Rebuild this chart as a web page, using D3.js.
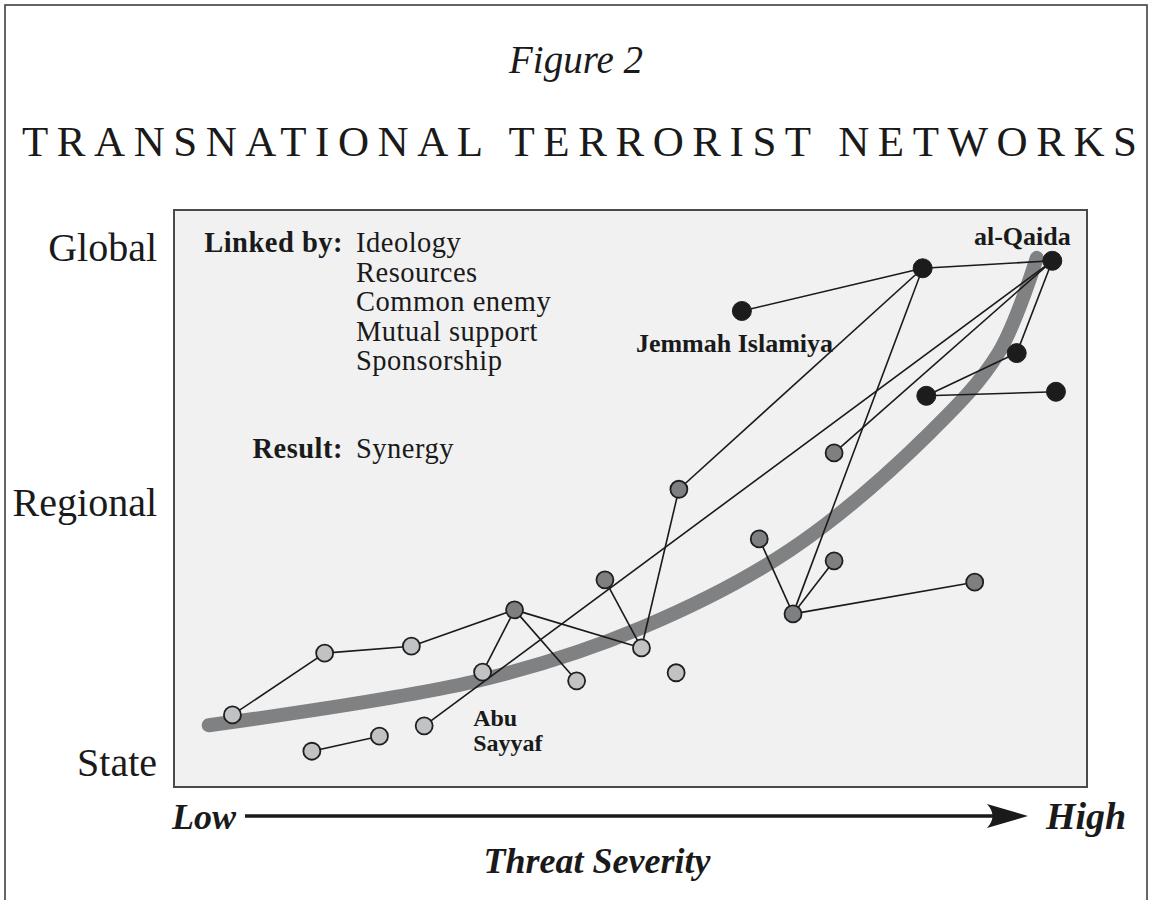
<!DOCTYPE html>
<html>
<head>
<meta charset="utf-8">
<script src="https://cdn.jsdelivr.net/npm/d3@7"></script>
<style>
body { margin: 0; background: #fff; }
svg { display: block; }
text { font-family: "Liberation Serif", "Times New Roman", serif; fill: #1a1a1a; }
</style>
</head>
<body>
<svg id="chart" width="1151" height="900"></svg>
<script>
// node positions: x = threat severity (0-100), y = reach (0 state .. 100 global)
const nodeIds   = ["aq", "b", "ji", "d", "e", "f", "g", "h", "i", "j", "k", "l", "m", "n", "o", "p", "q", "r", "s", "t", "u", "as", "w", "x"];
const nodeX     = [96.2, 82.0, 62.2, 92.3, 82.4, 96.6, 72.3, 55.3, 64.1, 72.3, 67.8, 87.7, 47.2, 37.3, 6.4, 16.5, 26.0, 33.8, 44.1, 51.2, 55.0, 27.4, 15.1, 22.5];
const nodeY     = [91.2, 89.9, 82.5, 75.2, 67.8, 68.5, 57.9, 51.6, 43.0, 39.2, 30.0, 35.5, 35.9, 30.7, 12.5, 23.2, 24.4, 19.9, 18.4, 24.1, 19.8, 10.6, 6.2, 8.8];
const nodeTier  = ["core", "core", "core", "core", "core", "core", "mid", "mid", "mid", "mid", "mid", "mid", "mid", "mid",
                   "local", "local", "local", "local", "local", "local", "local", "local", "local", "local"];

const links = [["ji", "b"], ["b", "aq"], ["b", "h"], ["b", "k"], ["aq", "d"], ["aq", "g"], ["aq", "as"],
               ["d", "e"], ["e", "f"], ["k", "i"], ["k", "j"], ["k", "l"],
               ["o", "p"], ["p", "q"], ["q", "n"], ["n", "r"], ["n", "s"], ["n", "t"], ["m", "t"], ["t", "h"], ["w", "x"]];

// the thick grey trend
const trendX = [3.8, 33.5, 51.2, 67.5, 82.8, 90.3, 94.5];
const trendY = [10.7, 18.5, 27.6, 41.1, 61.4, 75.2, 91.7];

const levelNames  = ["State", "Regional", "Global"];
const levelValues = [4.3, 49.4, 93.6];

const linkedBy = ["Ideology", "Resources", "Common enemy", "Mutual support", "Sponsorship"];
const groupNames = { aq: ["al-Qaida"], ji: ["Jemmah Islamiya"], as: ["Abu", "Sayyaf"] };

const tierFill = { core: "#1c1c1c", mid: "#7e7f81", local: "#c1c2c4" };

function NetworkChart(svg) {
    var self = this;
    self.svg = svg;
    self.init();
}

NetworkChart.prototype.init = function() {
    var self = this;
    self.box = { left: 174, top: 210, right: 1087, bottom: 787 };

    self.x = d3.scaleLinear().domain([0, 100]).range([self.box.left, self.box.right]);
    self.y = d3.scaleLinear().domain([0, 100]).range([self.box.bottom, self.box.top]);

    self.nodes = nodeIds.map(function(id, i) {
        return { id: id, x: nodeX[i], y: nodeY[i], tier: nodeTier[i] };
    });
    self.byId = {};
    self.nodes.forEach(function(d) { self.byId[d.id] = d; });
};

NetworkChart.prototype.drawFrame = function() {
    var self = this;
    // outer page frame
    self.svg.append("rect")
        .attr("x", 5).attr("y", 5)
        .attr("width", 1142).attr("height", 920)
        .attr("fill", "none").attr("stroke", "#333").attr("stroke-width", 1.5);

    self.svg.append("text")
        .attr("x", 576).attr("y", 73)
        .attr("text-anchor", "middle")
        .style("font-style", "italic").style("font-size", "39px")
        .text("Figure 2");

    self.svg.append("text")
        .attr("x", 22).attr("y", 156)
        .attr("textLength", 1115).attr("lengthAdjust", "spacing")
        .style("font-size", "43px")
        .text("TRANSNATIONAL TERRORIST NETWORKS");

    self.svg.append("rect")
        .attr("x", self.box.left).attr("y", self.box.top)
        .attr("width", self.box.right - self.box.left)
        .attr("height", self.box.bottom - self.box.top)
        .attr("fill", "#f1f1f1").attr("stroke", "#4a4a4a").attr("stroke-width", 2);
};

NetworkChart.prototype.drawAxes = function() {
    var self = this;

    self.svg.selectAll(".level")
        .data(levelNames)
        .join("text")
        .attr("class", "level")
        .attr("x", 157)
        .attr("y", function(d, i) { return self.y(levelValues[i]); })
        .attr("dy", "0.35em")
        .attr("text-anchor", "end")
        .style("font-size", "40px")
        .text(function(d) { return d; });

    let ay = 816;
    self.svg.append("text").attr("x", 172).attr("y", ay + 13)
        .style("font-style", "italic").style("font-weight", "bold").style("font-size", "36px")
        .text("Low");
    self.svg.append("line")
        .attr("x1", 245).attr("x2", 1000).attr("y1", ay).attr("y2", ay)
        .attr("stroke", "#1a1a1a").attr("stroke-width", 3.5);
    self.svg.append("path")
        .attr("d", `M1028,${ay} L987,${ay - 12} Q998,${ay} 987,${ay + 12} Z`)
        .attr("fill", "#1a1a1a");
    self.svg.append("text").attr("x", 1046).attr("y", ay + 13)
        .style("font-style", "italic").style("font-weight", "bold").style("font-size", "38px")
        .text("High");
    self.svg.append("text").attr("x", 597).attr("y", 873)
        .attr("text-anchor", "middle")
        .style("font-style", "italic").style("font-weight", "bold").style("font-size", "36px")
        .text("Threat Severity");
};

NetworkChart.prototype.drawNotes = function() {
    var self = this;
    let g = self.svg.append("g").style("font-size", "28.5px").style("letter-spacing", "0.5px");

    g.append("text").attr("x", 343).attr("y", 252)
        .attr("text-anchor", "end").style("font-weight", "bold")
        .text("Linked by:");
    g.selectAll(".linked")
        .data(linkedBy)
        .join("text")
        .attr("class", "linked")
        .attr("x", 356)
        .attr("y", function(d, i) { return 252 + i * 29.5; })
        .text(function(d) { return d; });

    g.append("text").attr("x", 343).attr("y", 458)
        .attr("text-anchor", "end").style("font-weight", "bold")
        .text("Result:");
    g.append("text").attr("x", 356).attr("y", 458).text("Synergy");
};

NetworkChart.prototype.drawNetwork = function() {
    var self = this;

    let trend = d3.line()
        .x(function(d) { return self.x(d[0]); })
        .y(function(d) { return self.y(d[1]); })
        .curve(d3.curveCatmullRom.alpha(0.5));

    self.svg.append("path")
        .datum(trendX.map(function(v, i) { return [v, trendY[i]]; }))
        .attr("d", trend)
        .attr("fill", "none")
        .attr("stroke", "#808183")
        .attr("stroke-width", 14)
        .attr("stroke-linecap", "round");

    self.svg.selectAll(".link")
        .data(links)
        .join("line")
        .attr("class", "link")
        .attr("x1", function(d) { return self.x(self.byId[d[0]].x); })
        .attr("y1", function(d) { return self.y(self.byId[d[0]].y); })
        .attr("x2", function(d) { return self.x(self.byId[d[1]].x); })
        .attr("y2", function(d) { return self.y(self.byId[d[1]].y); })
        .attr("stroke", "#1a1a1a")
        .attr("stroke-width", 1.6);

    self.svg.selectAll(".node")
        .data(self.nodes)
        .join("circle")
        .attr("class", "node")
        .attr("cx", function(d) { return self.x(d.x); })
        .attr("cy", function(d) { return self.y(d.y); })
        .attr("r", function(d) { return d.tier == "core" ? 9.5 : 8.5; })
        .attr("fill", function(d) { return tierFill[d.tier]; })
        .attr("stroke", "#1f1f1f")
        .attr("stroke-width", function(d) { return d.tier == "core" ? 1 : 1.8; });

    // group names sit next to their node
    let offsets = { aq: [-30, -16, "middle"], ji: [-106, 41, "start"], as: [49, 0, "start"] };
    Object.keys(groupNames).forEach(function(id) {
        let n = self.byId[id], o = offsets[id];
        self.svg.append("text")
            .attr("x", self.x(n.x) + o[0])
            .attr("y", self.y(n.y) + o[1])
            .attr("text-anchor", o[2])
            .style("font-weight", "bold").style("font-size", id == "as" ? "24px" : "26px")
            .selectAll("tspan")
            .data(groupNames[id])
            .join("tspan")
            .attr("x", self.x(n.x) + o[0])
            .attr("dy", function(d, i) { return i == 0 ? 0 : 25; })
            .text(function(d) { return d; });
    });
};

var chart = new NetworkChart(d3.select("#chart"));
chart.drawFrame();
chart.drawAxes();
chart.drawNotes();
chart.drawNetwork();
</script>
</body>
</html>
